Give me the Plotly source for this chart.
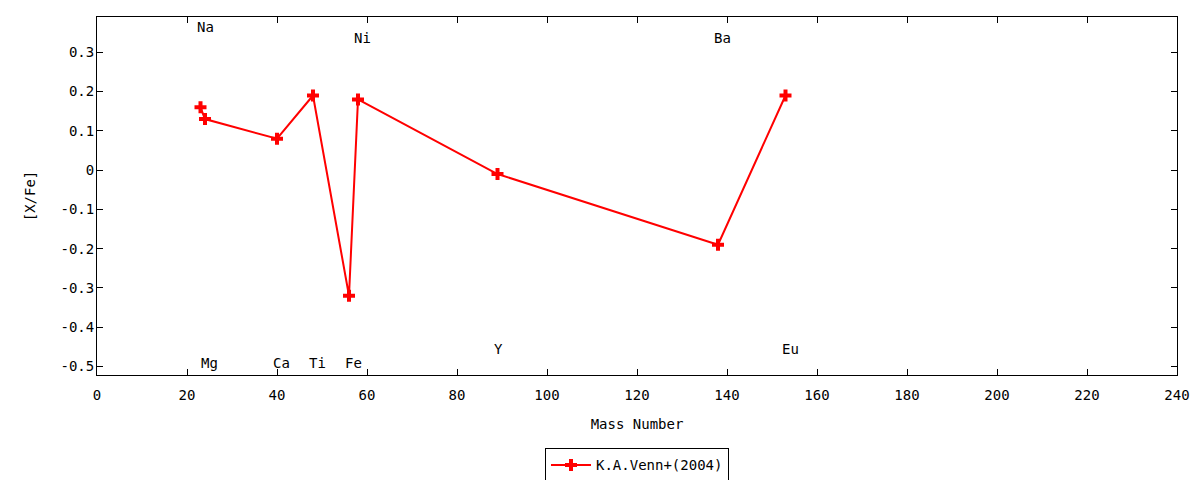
import plotly.graph_objects as go

# abundance ratios (K.A.Venn+ 2004)
elements = ["Na", "Mg", "Ca", "Ti", "Fe", "Ni", "Y", "Ba", "Eu"]
mass_number = [23, 24, 40, 48, 56, 58, 89, 138, 153]
x_fe = [0.16, 0.13, 0.08, 0.19, -0.32, 0.18, -0.01, -0.19, 0.19]

# where the element names sit (data coords)
label_x = [23, 24, 40, 48, 56, 58, 89, 138, 153]
label_y = [0.364, -0.492, -0.492, -0.492, -0.492, 0.336, -0.456, 0.336, -0.456]

x_ticks = list(range(0, 241, 20))
y_ticks = [-0.5, -0.4, -0.3, -0.2, -0.1, 0, 0.1, 0.2, 0.3]
y_tick_text = ["-0.5", "-0.4", "-0.3", "-0.2", "-0.1", "0", "0.1", "0.2", "0.3"]

font = "DejaVu Sans Mono"
fsize = 14

fig = go.Figure()
fig.add_trace(go.Scatter(
    x=mass_number, y=x_fe, name="K.A.Venn+(2004)",
    mode="lines+markers",
    line=dict(color="#ff0000", width=2),
    marker=dict(symbol="cross", size=10, color="#ff0000"),
))

for el, lx, ly in zip(elements, label_x, label_y):
    fig.add_annotation(x=lx, y=ly, text=el, showarrow=False,
                       xanchor="left", yanchor="middle", xshift=-6,
                       font=dict(family=font, size=fsize, color="black"))

axis_style = dict(showline=True, linecolor="black", linewidth=1, mirror="ticks",
                  ticks="inside", ticklen=6, tickcolor="black", showgrid=False,
                  zeroline=False, automargin=False,
                  tickfont=dict(family=font, size=fsize, color="black"))

fig.update_xaxes(range=[0, 240], tickvals=x_ticks, ticklabelstandoff=7,
                 title=dict(text="Mass Number", font=dict(family=font, size=fsize), standoff=17),
                 **axis_style)
fig.update_yaxes(range=[-0.522, 0.39], tickvals=y_ticks, ticktext=y_tick_text,
                 ticklabelstandoff=-1,
                 title=dict(text="[X/Fe]", font=dict(family=font, size=fsize), standoff=21),
                 **axis_style)

# the page body adds ~8px of margin, so margins are trimmed to land the frame where the reference has it
fig.update_layout(
    width=1200, height=480,
    margin=dict(l=89, r=31, t=9, b=113, autoexpand=False),
    plot_bgcolor="white", paper_bgcolor="white",
    font=dict(family=font, size=fsize, color="black"),
    showlegend=True,
    legend=dict(orientation="h", x=0.5, xanchor="center", y=-0.205, yanchor="top",
                bordercolor="black", borderwidth=1, font=dict(family=font, size=fsize),
                itemwidth=40, tracegroupgap=0),
)

fig.write_html("out.html")
